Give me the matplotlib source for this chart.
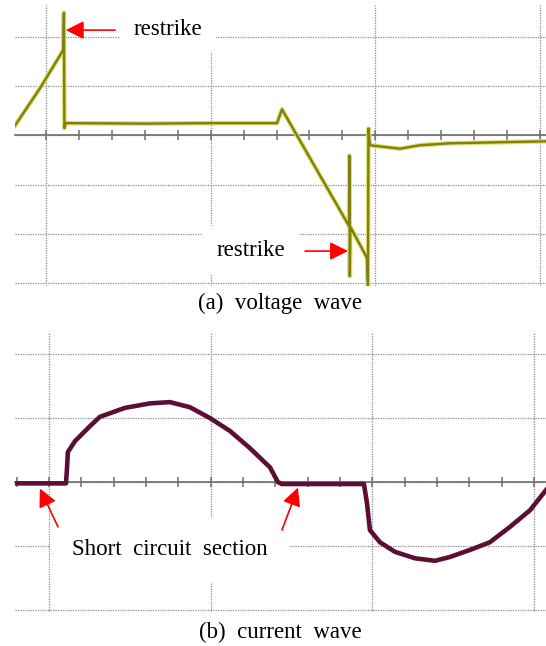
import matplotlib
matplotlib.use("Agg")
import matplotlib.pyplot as plt
from matplotlib.ticker import FixedLocator, MultipleLocator

# ---- data (time and amplitude in oscilloscope divisions) ----
volt_t = [-0.188, -0.036, 0.097, 0.105, 0.109, 0.112, 0.12, 0.6, 1.0, 1.403,
          1.433, 1.84, 1.842, 1.845, 1.848, 1.85, 1.943, 1.949, 1.955, 1.958,
          1.967, 2.149, 2.27, 2.45, 3.036]
volt_v = [0.20, 0.96, 1.69, 1.75, 2.49, 0.15, 0.25, 0.24, 0.25, 0.25,
          0.53, -1.84, -0.41, -2.86, -1.86, -1.87, -2.45, -2.50, -3.06, 0.14,
          -0.20, -0.27, -0.20, -0.16, -0.12]

curr_t = [-0.21, 0.105, 0.111, 0.117, 0.161, 0.254, 0.315, 0.47, 0.625, 0.748,
          0.872, 0.996, 1.119, 1.243, 1.367, 1.416, 1.44, 1.948, 1.967, 1.985,
          2.047, 2.14, 2.263, 2.387, 2.48, 2.604, 2.727, 2.851, 2.975, 3.074]
curr_i = [-0.02, -0.02, 0.19, 0.47, 0.64, 0.875, 1.02, 1.16, 1.23, 1.25,
          1.17, 1.0, 0.80, 0.53, 0.23, 0.0, -0.03, -0.03, -0.33, -0.75,
          -0.94, -1.09, -1.19, -1.23, -1.17, -1.06, -0.94, -0.70, -0.44, -0.125]

x_major = [0, 1, 2, 3]
v_grid = [-3, -2, -1, 0, 1, 2]
i_grid = [-2, -1, 0, 1, 2]

captions = ["(a)  voltage  wave", "(b)  current  wave"]
label_restrike = "restrike"
label_short = "Short  circuit  section"

SERIF = ["Liberation Serif", "DejaVu Serif"]
FS = 16.5

fig = plt.figure(figsize=(5.46, 6.46), dpi=100)
ax1 = fig.add_axes([15/546, 1-286/646, 531/546, 281/646])
ax2 = fig.add_axes([15/546, 1-612/646, 531/546, 279/646])


def scope(ax, xlim, ylim, ygrid):
    ax.set_xlim(*xlim)
    ax.set_ylim(*ylim)
    for s in ["top", "left", "right"]:
        ax.spines[s].set_visible(False)
    ax.spines["bottom"].set_position(("data", 0))
    ax.spines["bottom"].set_color("#6e6e6e")
    ax.spines["bottom"].set_linewidth(1.2)
    ax.xaxis.set_major_locator(FixedLocator(x_major))
    ax.xaxis.set_minor_locator(MultipleLocator(0.2))
    ax.tick_params(axis="x", which="both", direction="inout", length=7,
                   width=1.1, color="#6e6e6e", labelbottom=False)
    ax.yaxis.set_major_locator(FixedLocator(ygrid))
    ax.tick_params(axis="y", which="both", length=0, labelleft=False)
    ax.set_axisbelow(True)
    ax.grid(which="major", linestyle=(0, (1, 1.0)), color="#8a8a8a", lw=0.9)
    ax.patch.set_alpha(0)


scope(ax1, (-0.188, 3.036), (-3.06, 2.65), v_grid)
scope(ax2, (-0.21, 3.074), (-2.03, 2.33), i_grid)

# voltage trace (olive with yellow halo)
ax1.plot(volt_t, volt_v, color="#e0e070", lw=3.3, zorder=4)
ax1.plot(volt_t, volt_v, color="#7f7f12", lw=1.7, zorder=5)

# current trace
ax2.plot(curr_t, curr_i, color="#5c0f35", lw=3.3, zorder=5)

arrow = dict(arrowstyle="-|>,head_length=1.1,head_width=0.55", color="#ff0000",
             lw=1.2, shrinkA=0, shrinkB=0)
box = dict(boxstyle="square,pad=0.6", fc="white", ec="none")

ax1.text(0.74, 2.16, label_restrike, ha="center", va="center", fontsize=FS,
         family=SERIF, bbox=box, zorder=3)
ax1.annotate("", xy=(0.12, 2.14), xytext=(0.42, 2.14), arrowprops=arrow, zorder=6)

ax1.text(1.245, -2.33, label_restrike, ha="center", va="center", fontsize=FS,
         family=SERIF, bbox=box, zorder=3)
ax1.annotate("", xy=(1.834, -2.35), xytext=(1.573, -2.35), arrowprops=arrow, zorder=6)

ax2.text(0.748, -1.06, label_short, ha="center", va="center", fontsize=FS,
         family=SERIF, bbox=dict(boxstyle="square,pad=0.95", fc="white", ec="none"),
         zorder=3)
ax2.annotate("", xy=(-0.056, -0.10), xytext=(0.056, -0.70), arrowprops=arrow, zorder=6)
ax2.annotate("", xy=(1.54, -0.085), xytext=(1.441, -0.75), arrowprops=arrow, zorder=6)

fig.text(280/546, 1-303/646, captions[0], ha="center", va="center",
         fontsize=FS, family=SERIF)
fig.text(280/546, 1-632/646, captions[1], ha="center", va="center",
         fontsize=FS, family=SERIF)

fig.savefig("out.png", dpi=100, facecolor="white")
